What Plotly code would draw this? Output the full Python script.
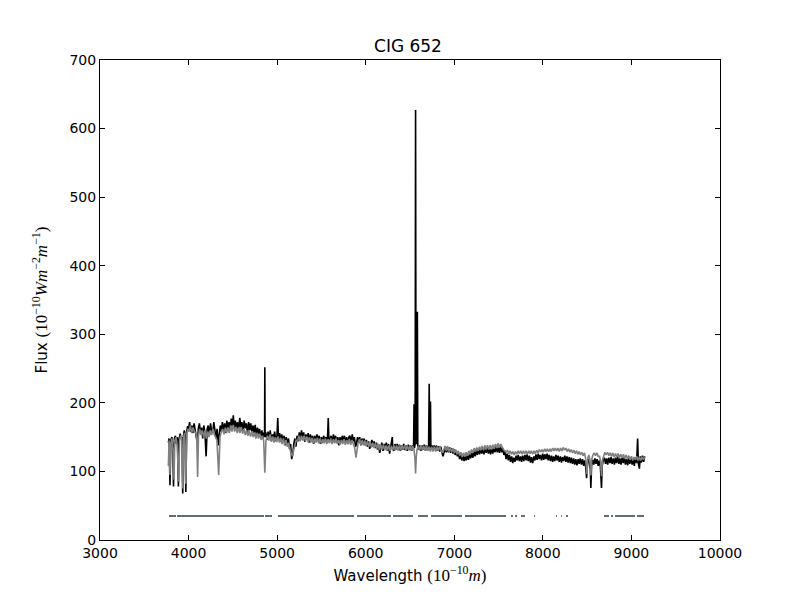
import plotly.graph_objects as go

# observed spectrum (black)
obs_wave = [
    3772, 3780, 3790, 3800, 3812, 3822, 3830, 3840, 3852, 3862, 3875, 3885, 3893, 3905, 3915, 3925,
    3934, 3942, 3952, 3961, 3969, 3978, 3990, 4000, 4012, 4025, 4038, 4050, 4062, 4075, 4088, 4100,
    4110, 4122, 4135, 4148, 4160, 4172, 4185, 4198, 4210, 4222, 4235, 4248, 4260, 4272, 4285, 4298,
    4310, 4322, 4334, 4345, 4358, 4370, 4382, 4395, 4408, 4420, 4432, 4445, 4458, 4470, 4482, 4495,
    4505, 4515, 4528, 4540, 4552, 4565, 4578, 4590, 4602, 4615, 4628, 4640, 4652, 4665, 4678, 4690,
    4702, 4715, 4728, 4740, 4752, 4765, 4778, 4790, 4802, 4815, 4828, 4840, 4852, 4858, 4861, 4864,
    4872, 4885, 4898, 4910, 4922, 4935, 4948, 4960, 4972, 4985, 4998, 5007, 5015, 5028, 5040, 5052,
    5065, 5078, 5090, 5102, 5115, 5128, 5140, 5152, 5164, 5176, 5188, 5200, 5212, 5225, 5238, 5250,
    5262, 5275, 5288, 5300, 5312, 5325, 5338, 5350, 5362, 5375, 5388, 5400, 5412, 5425, 5438, 5450,
    5462, 5475, 5488, 5500, 5512, 5525, 5538, 5550, 5560, 5570, 5577, 5584, 5596, 5610, 5622, 5635,
    5648, 5660, 5672, 5685, 5698, 5710, 5722, 5735, 5748, 5760, 5772, 5785, 5798, 5810, 5822, 5835,
    5848, 5860, 5872, 5885, 5895, 5908, 5920, 5932, 5945, 5958, 5970, 5982, 5995, 6008, 6020, 6032,
    6045, 6058, 6070, 6082, 6095, 6108, 6120, 6132, 6145, 6158, 6170, 6182, 6195, 6208, 6220, 6232,
    6245, 6258, 6270, 6282, 6295, 6300, 6305, 6318, 6330, 6342, 6355, 6368, 6380, 6392, 6405, 6418,
    6430, 6442, 6455, 6468, 6480, 6492, 6505, 6518, 6530, 6540, 6546, 6550, 6558, 6563, 6568, 6578,
    6583, 6588, 6598, 6610, 6622, 6635, 6648, 6660, 6672, 6685, 6698, 6710, 6717, 6722, 6731, 6736,
    6748, 6760, 6772, 6785, 6798, 6810, 6822, 6835, 6848, 6860, 6872, 6885, 6898, 6910, 6922, 6935,
    6948, 6960, 6972, 6985, 6998, 7010, 7022, 7035, 7048, 7060, 7072, 7085, 7098, 7110, 7122, 7135,
    7148, 7160, 7172, 7185, 7198, 7210, 7222, 7235, 7248, 7260, 7272, 7285, 7298, 7310, 7322, 7335,
    7348, 7360, 7372, 7385, 7398, 7410, 7422, 7435, 7448, 7460, 7472, 7485, 7498, 7510, 7522, 7535,
    7548, 7560, 7572, 7585, 7598, 7610, 7622, 7635, 7648, 7660, 7672, 7685, 7698, 7710, 7722, 7735,
    7748, 7760, 7772, 7785, 7798, 7810, 7822, 7835, 7848, 7860, 7872, 7885, 7898, 7910, 7922, 7935,
    7948, 7960, 7972, 7985, 7998, 8010, 8022, 8035, 8048, 8060, 8072, 8085, 8098, 8110, 8122, 8135,
    8148, 8160, 8172, 8185, 8198, 8210, 8222, 8235, 8248, 8260, 8272, 8285, 8298, 8310, 8322, 8335,
    8348, 8360, 8372, 8385, 8398, 8410, 8422, 8435, 8448, 8460, 8472, 8484, 8494, 8502, 8515, 8528,
    8536, 8542, 8550, 8562, 8575, 8588, 8600, 8612, 8625, 8638, 8650, 8662, 8670, 8682, 8695, 8708,
    8720, 8732, 8745, 8758, 8770, 8782, 8795, 8808, 8820, 8832, 8845, 8858, 8870, 8882, 8895, 8908,
    8920, 8932, 8945, 8958, 8970, 8982, 8995, 9008, 9020, 9032, 9045, 9058, 9070, 9078, 9090, 9100,
    9112, 9125, 9138, 9150,
]
obs_flux = [
    142, 148, 80, 146, 150, 135, 78, 148, 152, 140, 150, 78, 146, 155, 148, 150,
    68, 152, 160, 150, 70, 158, 166, 162, 172, 158, 167, 156, 170, 160, 153, 140,
    162, 170, 156, 164, 148, 167, 156, 122, 162, 167, 153, 170, 158, 156, 172, 160,
    148, 162, 138, 153, 167, 158, 172, 160, 170, 156, 174, 163, 172, 160, 177, 166,
    182, 163, 174, 161, 172, 160, 178, 164, 172, 158, 174, 163, 170, 156, 172, 160,
    170, 158, 167, 156, 168, 153, 164, 154, 162, 150, 160, 148, 157, 150, 252, 150,
    157, 146, 158, 148, 160, 144, 154, 148, 158, 144, 152, 178, 146, 156, 143, 154,
    144, 152, 138, 150, 140, 148, 133, 140, 118, 125, 140, 148, 136, 152, 144, 157,
    146, 160, 148, 157, 143, 154, 146, 156, 142, 154, 144, 152, 140, 152, 143, 154,
    144, 152, 140, 150, 142, 152, 144, 150, 143, 152, 178, 146, 148, 152, 142, 154,
    144, 152, 142, 150, 138, 150, 142, 152, 144, 152, 142, 150, 140, 150, 152, 142,
    154, 144, 150, 136, 140, 150, 142, 150, 138, 148, 140, 148, 138, 146, 136, 144,
    133, 142, 146, 136, 144, 134, 142, 132, 140, 127, 138, 142, 130, 140, 133, 142,
    130, 140, 126, 136, 140, 150, 134, 130, 140, 132, 140, 131, 139, 130, 138, 132,
    140, 131, 138, 130, 139, 131, 138, 130, 138, 134, 198, 134, 140, 627, 145, 140,
    333, 138, 132, 138, 130, 138, 132, 139, 131, 138, 130, 137, 228, 134, 202, 133,
    138, 130, 138, 131, 138, 130, 137, 129, 136, 128, 122, 128, 135, 128, 136, 128,
    135, 127, 134, 126, 132, 124, 130, 122, 127, 118, 124, 116, 123, 115, 122, 116,
    124, 117, 125, 119, 127, 120, 129, 122, 131, 124, 133, 125, 134, 126, 133, 125,
    134, 127, 135, 126, 133, 125, 134, 126, 135, 128, 137, 128, 135, 127, 136, 128,
    134, 124, 130, 118, 126, 116, 124, 114, 122, 112, 120, 114, 123, 116, 124, 115,
    122, 114, 123, 115, 124, 116, 125, 115, 123, 113, 121, 112, 122, 116, 125, 117,
    126, 118, 124, 116, 126, 117, 125, 118, 126, 116, 124, 115, 123, 114, 122, 115,
    124, 116, 123, 114, 122, 113, 121, 115, 123, 114, 122, 113, 121, 112, 120, 111,
    119, 110, 118, 109, 118, 111, 119, 110, 118, 108, 116, 106, 90, 112, 118, 108,
    104, 76, 108, 117, 110, 119, 111, 118, 108, 116, 106, 76, 108, 116, 120, 111,
    119, 110, 120, 112, 121, 111, 119, 110, 120, 112, 122, 111, 119, 110, 120, 112,
    121, 110, 118, 109, 120, 111, 121, 110, 119, 108, 120, 112, 148, 112, 104, 122,
    113, 123, 114, 122,
]

# model spectrum (gray)
mod_wave = [
    3772, 3780, 3790, 3798, 3812, 3825, 3835, 3845, 3858, 3870, 3889, 3898, 3910, 3922, 3934, 3945,
    3955, 3969, 3980, 3992, 4005, 4020, 4035, 4050, 4065, 4080, 4092, 4102, 4112, 4125, 4140, 4155,
    4170, 4185, 4200, 4215, 4230, 4245, 4260, 4275, 4290, 4305, 4320, 4340, 4355, 4370, 4385, 4400,
    4415, 4430, 4445, 4460, 4475, 4490, 4505, 4520, 4535, 4550, 4565, 4580, 4595, 4610, 4625, 4640,
    4655, 4670, 4685, 4700, 4715, 4730, 4745, 4760, 4775, 4790, 4805, 4820, 4835, 4848, 4861, 4874,
    4890, 4905, 4920, 4935, 4950, 4965, 4980, 4995, 5010, 5025, 5040, 5055, 5070, 5085, 5100, 5115,
    5130, 5145, 5160, 5172, 5185, 5200, 5215, 5230, 5245, 5260, 5275, 5290, 5305, 5320, 5335, 5350,
    5365, 5380, 5395, 5410, 5425, 5440, 5455, 5470, 5485, 5500, 5515, 5530, 5545, 5560, 5575, 5590,
    5605, 5620, 5635, 5650, 5665, 5680, 5695, 5710, 5725, 5740, 5755, 5770, 5785, 5800, 5815, 5830,
    5845, 5860, 5875, 5890, 5900, 5915, 5930, 5945, 5960, 5975, 5990, 6005, 6020, 6035, 6050, 6065,
    6080, 6095, 6110, 6125, 6140, 6155, 6170, 6185, 6200, 6215, 6230, 6245, 6260, 6275, 6290, 6305,
    6320, 6335, 6350, 6365, 6380, 6395, 6410, 6425, 6440, 6455, 6470, 6485, 6500, 6515, 6530, 6545,
    6555, 6563, 6571, 6580, 6595, 6610, 6625, 6640, 6655, 6670, 6685, 6700, 6715, 6730, 6745, 6760,
    6775, 6790, 6805, 6820, 6835, 6850, 6865, 6880, 6895, 6910, 6925, 6940, 6955, 6970, 6985, 7000,
    7015, 7030, 7045, 7060, 7075, 7090, 7105, 7120, 7135, 7150, 7165, 7180, 7195, 7210, 7225, 7240,
    7255, 7270, 7285, 7300, 7315, 7330, 7345, 7360, 7375, 7390, 7405, 7420, 7435, 7450, 7465, 7480,
    7495, 7510, 7525, 7540, 7555, 7570, 7585, 7600, 7615, 7630, 7645, 7660, 7675, 7690, 7705, 7720,
    7735, 7750, 7765, 7780, 7795, 7810, 7825, 7840, 7855, 7870, 7885, 7900, 7915, 7930, 7945, 7960,
    7975, 7990, 8005, 8020, 8035, 8050, 8065, 8080, 8095, 8110, 8125, 8140, 8155, 8170, 8185, 8200,
    8215, 8230, 8245, 8260, 8275, 8290, 8305, 8320, 8335, 8350, 8365, 8380, 8395, 8410, 8425, 8440,
    8455, 8470, 8484, 8498, 8508, 8520, 8530, 8542, 8552, 8565, 8580, 8595, 8610, 8625, 8640, 8652,
    8662, 8672, 8685, 8700, 8715, 8730, 8745, 8760, 8775, 8790, 8805, 8820, 8835, 8850, 8865, 8880,
    8895, 8910, 8925, 8940, 8955, 8970, 8985, 9000, 9015, 9030, 9045, 9060, 9075, 9090, 9105, 9120,
    9135, 9150,
]
mod_flux = [
    108, 145, 95, 140, 148, 130, 88, 145, 150, 140, 85, 145, 152, 148, 75, 150,
    156, 82, 155, 162, 158, 167, 156, 164, 158, 157, 150, 92, 152, 162, 153, 160,
    150, 160, 148, 158, 150, 160, 153, 162, 154, 150, 146, 95, 150, 158, 162, 154,
    164, 156, 164, 156, 167, 158, 168, 158, 165, 156, 164, 156, 165, 155, 162, 153,
    160, 152, 159, 151, 158, 150, 157, 148, 156, 148, 155, 146, 152, 145, 98, 145,
    152, 145, 154, 144, 151, 142, 150, 143, 151, 142, 149, 140, 148, 138, 146, 136,
    142, 132, 125, 122, 130, 140, 146, 144, 152, 144, 152, 145, 152, 144, 151, 143,
    150, 142, 149, 141, 148, 142, 149, 141, 148, 140, 147, 141, 148, 140, 147, 141,
    148, 140, 147, 141, 148, 140, 146, 139, 146, 140, 147, 139, 146, 140, 147, 139,
    146, 140, 135, 120, 132, 142, 147, 139, 146, 138, 145, 137, 144, 136, 143, 135,
    142, 134, 141, 133, 140, 131, 139, 132, 139, 131, 138, 131, 138, 130, 137, 131,
    138, 131, 138, 131, 138, 131, 138, 132, 138, 131, 138, 131, 137, 131, 137, 132,
    120, 97, 122, 132, 137, 131, 138, 131, 137, 130, 137, 130, 136, 129, 136, 129,
    136, 129, 136, 130, 137, 130, 128, 131, 137, 130, 136, 129, 135, 128, 134, 127,
    132, 125, 130, 123, 128, 121, 127, 122, 128, 123, 130, 125, 132, 127, 134, 129,
    135, 130, 136, 131, 137, 131, 138, 132, 138, 132, 138, 132, 139, 133, 140, 134,
    141, 135, 140, 135, 132, 130, 128, 131, 126, 130, 125, 129, 124, 129, 125, 130,
    126, 130, 125, 130, 126, 130, 125, 130, 126, 130, 125, 130, 126, 131, 127, 132,
    128, 132, 128, 133, 129, 133, 129, 133, 129, 134, 130, 134, 130, 134, 129, 134,
    130, 135, 131, 134, 129, 133, 128, 132, 127, 131, 126, 130, 125, 129, 124, 128,
    123, 127, 118, 96, 120, 124, 118, 94, 118, 124, 127, 123, 127, 122, 122, 114,
    93, 116, 124, 128, 124, 128, 123, 127, 122, 127, 121, 126, 121, 126, 120, 125,
    120, 125, 119, 124, 118, 123, 117, 122, 116, 121, 117, 122, 116, 121, 116, 121,
    117, 121,
]

# masked regions drawn as a line at the bottom
mask_start = [3779, 3869, 4863, 5010, 5902, 6308, 6590, 6737, 7121, 7640, 7686, 7753, 7900,
              8148, 8205, 8261, 8690, 8770, 8815, 9063]
mask_end = [3858, 4852, 4942, 5868, 6286, 6534, 6703, 7087, 7584, 7663, 7708, 7798, 7911,
            8160, 8215, 8284, 8747, 8793, 9041, 9142]
mask_level = 35


def build_mask_line():
    xs, ys = [], []
    for s, e in zip(mask_start, mask_end):
        xs += [s, e, None]
        ys += [mask_level, mask_level, None]
    return xs, ys


def make_figure():
    fig = go.Figure()
    fig.add_trace(go.Scatter(x=obs_wave, y=obs_flux, mode="lines",
                             line=dict(color="black", width=1.6)))
    fig.add_trace(go.Scatter(x=mod_wave, y=mod_flux, mode="lines",
                             line=dict(color="#808080", width=1.6)))
    mx, my = build_mask_line()
    fig.add_trace(go.Scatter(x=mx, y=my, mode="lines",
                             line=dict(color="#5f6e74", width=2)))

    # math part of the labels in a serif italic, a bit larger like mathtext
    serif = "font-family:'Liberation Serif';font-size:17px"
    xlabel = (f"Wavelength <span style=\"{serif}\">(10<sup>\u221210</sup><i>m</i>)</span>")
    ylabel = (f"Flux <span style=\"{serif}\">(10<sup>\u221210</sup><i>Wm</i>"
              f"<sup>\u22122</sup><i>m</i><sup>\u22121</sup>)</span>")

    axis_common = dict(
        showline=True, linecolor="black", linewidth=1, mirror="ticks",
        ticks="inside", ticklen=5, tickcolor="black", tickwidth=1,
        showgrid=False, zeroline=False, tickformat="d",
        tickfont=dict(size=14, color="black"),
    )
    fig.update_layout(
        width=800, height=600,
        paper_bgcolor="white", plot_bgcolor="white",
        font=dict(family="DejaVu Sans", color="black"),
        showlegend=False,
        title=dict(text="CIG 652", x=0.5, xanchor="center", y=0.937, yanchor="middle",
                   font=dict(size=17)),
        margin=dict(l=92, r=88, t=52, b=68),
        xaxis=dict(range=[3000, 10000], dtick=1000, tick0=3000,
                   title=dict(text=xlabel, font=dict(size=15), standoff=10),
                   **axis_common),
        yaxis=dict(range=[0, 700], dtick=100, tick0=0,
                   title=dict(text=ylabel, font=dict(size=15), standoff=18),
                   **axis_common),
    )
    return fig


if __name__ == "__main__":
    fig = make_figure()
    fig.write_html("out.html")
